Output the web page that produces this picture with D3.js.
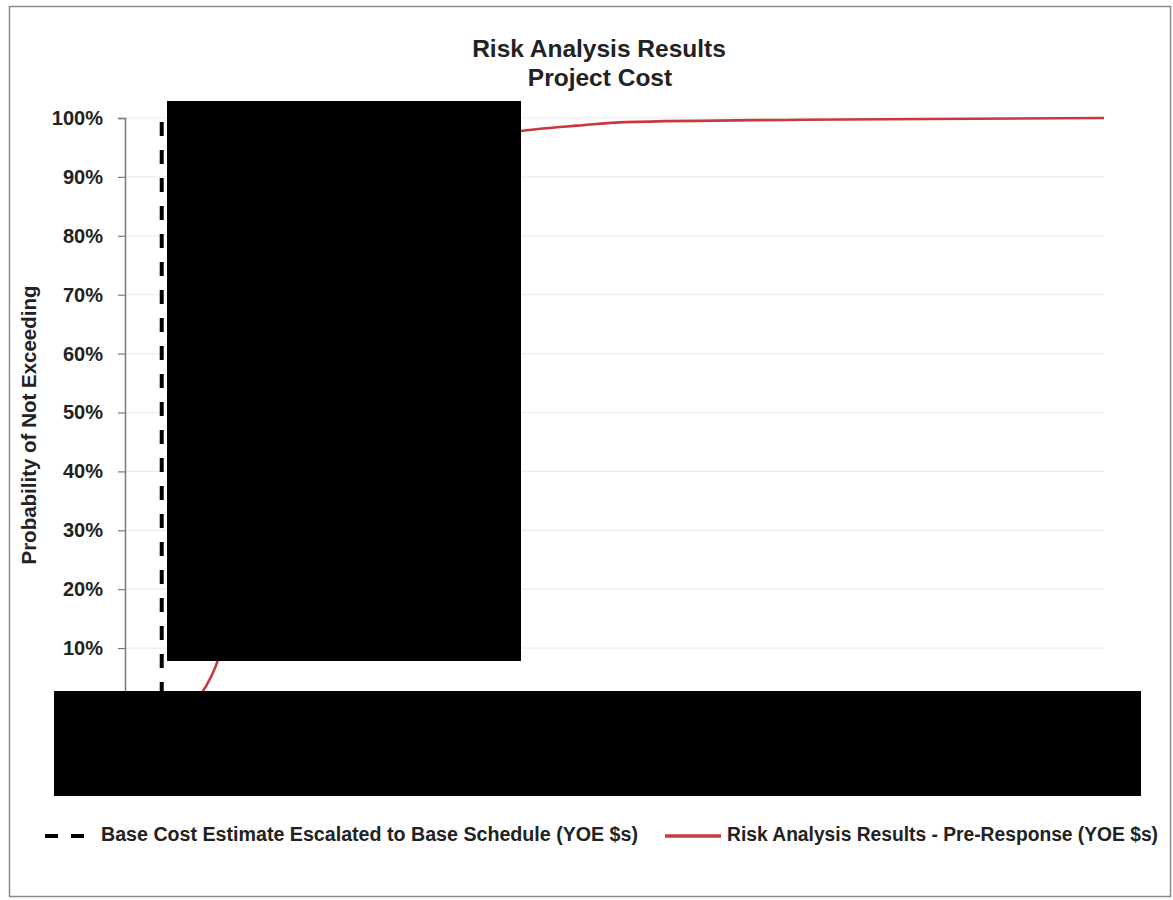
<!DOCTYPE html>
<html>
<head>
<meta charset="utf-8">
<script src="https://cdn.jsdelivr.net/npm/d3@7"></script>
<style>
  body { margin: 0; background: #fff; }
  #chart svg { display: block; }
</style>
</head>
<body>
<div id="chart"></div>
<script>
'use strict'

// cost in $M (x values are hidden under redaction in the source)
const costs = [443, 455, 463, 470, 476, 484, 498, 519, 543, 580, 633, 682, 723, 770, 809, 952, 1200]
const probs = [0, 0.01, 0.025, 0.05, 0.08, 0.15, 0.3, 0.5, 0.7, 0.85, 0.93, 0.965, 0.978, 0.987, 0.993, 0.997, 1.0]
const baseCost = 430
const yTicks = [0, 0.1, 0.2, 0.3, 0.4, 0.5, 0.6, 0.7, 0.8, 0.9, 1.0]
const seriesNames = ["Base Cost Estimate Escalated to Base Schedule (YOE $s)", "Risk Analysis Results - Pre-Response (YOE $s)"]

const font_family = '"Liberation Sans", Arial, sans-serif'
const svgWidth = 1173
const svgHeight = 900
const margin = { left: 125, right: 69, top: 118, bottom: 193 }
const width = svgWidth - margin.left - margin.right
const height = svgHeight - margin.top - margin.bottom

const root = d3.select('#chart')
    .append('svg')
    .attr('width', svgWidth)
    .attr('height', svgHeight)

// outer frame
root.append('rect')
    .attr('x', 9.5).attr('y', 6.5)
    .attr('width', 1161).attr('height', 890)
    .attr('fill', 'none')
    .attr('stroke', '#8a8a8a')
    .attr('stroke-width', 1.5)

const svg = root.append('g')
    .attr('transform', `translate(${margin.left},${margin.top})`)

////////////////////////////////////
//////////// Scales ////////////////
////////////////////////////////////

const x = d3.scaleLinear().domain([400, 1200]).range([0, width])
const y = d3.scaleLinear().domain([0, 1]).range([height, 0])

// gridlines
svg.selectAll('.grid')
    .data(yTicks.filter(d => d > 0))
    .join('line')
    .attr('class', 'grid')
    .attr('x1', 0).attr('x2', width)
    .attr('y1', d => y(d)).attr('y2', d => y(d))
    .attr('stroke', '#ececec')
    .attr('stroke-width', 1.2)

// y axis
const yAxis = svg.append('g')
    .call(d3.axisLeft(y).tickValues(yTicks).tickFormat(d3.format('.0%')).tickSize(7).tickPadding(15))
yAxis.select('.domain').attr('stroke', '#7a7a7a').attr('stroke-width', 1.5)
yAxis.selectAll('.tick line').attr('stroke', '#7a7a7a').attr('stroke-width', 1.2)
yAxis.selectAll('.tick text')
    .style('font-family', font_family)
    .style('font-size', '20px')
    .style('font-weight', '700')
    .attr('fill', '#222')

// y label
svg.append('text')
    .attr('transform', `translate(${31 - margin.left},${425 - margin.top}) rotate(-90)`)
    .attr('text-anchor', 'middle')
    .attr('dominant-baseline', 'middle')
    .style('font-family', font_family)
    .style('font-size', '20.5px')
    .style('font-weight', '700')
    .attr('fill', '#222')
    .text('Probability of Not Exceeding')

// base cost dashed line
svg.append('line')
    .attr('x1', x(baseCost)).attr('x2', x(baseCost))
    .attr('y1', y(1)).attr('y2', y(0))
    .attr('stroke', '#000')
    .attr('stroke-width', 4)
    .attr('stroke-dasharray', '14,14')
    .attr('stroke-dashoffset', 24)

// risk curve
const curveData = costs.map((c, i) => ({ cost: c, p: probs[i] }))
const line = d3.line()
    .x(d => x(d.cost))
    .y(d => y(d.p))
    .curve(d3.curveMonotoneX)

svg.append('path')
    .datum(curveData)
    .attr('d', line)
    .attr('fill', 'none')
    .attr('stroke', '#c8383c')
    .attr('stroke-width', 2.6)

// redaction boxes
root.append('rect')
    .attr('x', 167).attr('y', 101)
    .attr('width', 354).attr('height', 560)
    .attr('fill', '#000')
root.append('rect')
    .attr('x', 54).attr('y', 691)
    .attr('width', 1087).attr('height', 105)
    .attr('fill', '#000')

// title
const title = root.append('text')
    .attr('text-anchor', 'middle')
    .style('font-family', font_family)
    .style('font-size', '24.5px')
    .style('font-weight', '700')
    .attr('fill', '#222')
title.append('tspan').attr('x', 599).attr('y', 57).text('Risk Analysis Results')
title.append('tspan').attr('x', 600).attr('y', 86).text('Project Cost')

// legend
const legendY = 836
root.append('line')
    .attr('x1', 45).attr('x2', 84)
    .attr('y1', legendY).attr('y2', legendY)
    .attr('stroke', '#000')
    .attr('stroke-width', 4)
    .attr('stroke-dasharray', '13,13')
root.append('text')
    .attr('x', 101).attr('y', legendY)
    .attr('dominant-baseline', 'middle')
    .style('font-family', font_family)
    .style('font-size', '19.5px')
    .style('font-weight', '700')
    .attr('fill', '#222')
    .attr('textLength', 537)
    .attr('lengthAdjust', 'spacingAndGlyphs')
    .text(seriesNames[0])

root.append('line')
    .attr('x1', 665).attr('x2', 721)
    .attr('y1', legendY).attr('y2', legendY)
    .attr('stroke', '#c8383c')
    .attr('stroke-width', 3.5)
root.append('text')
    .attr('x', 727).attr('y', legendY)
    .attr('dominant-baseline', 'middle')
    .style('font-family', font_family)
    .style('font-size', '19.5px')
    .style('font-weight', '700')
    .attr('fill', '#222')
    .attr('textLength', 431)
    .attr('lengthAdjust', 'spacingAndGlyphs')
    .text(seriesNames[1])
</script>
</body>
</html>
